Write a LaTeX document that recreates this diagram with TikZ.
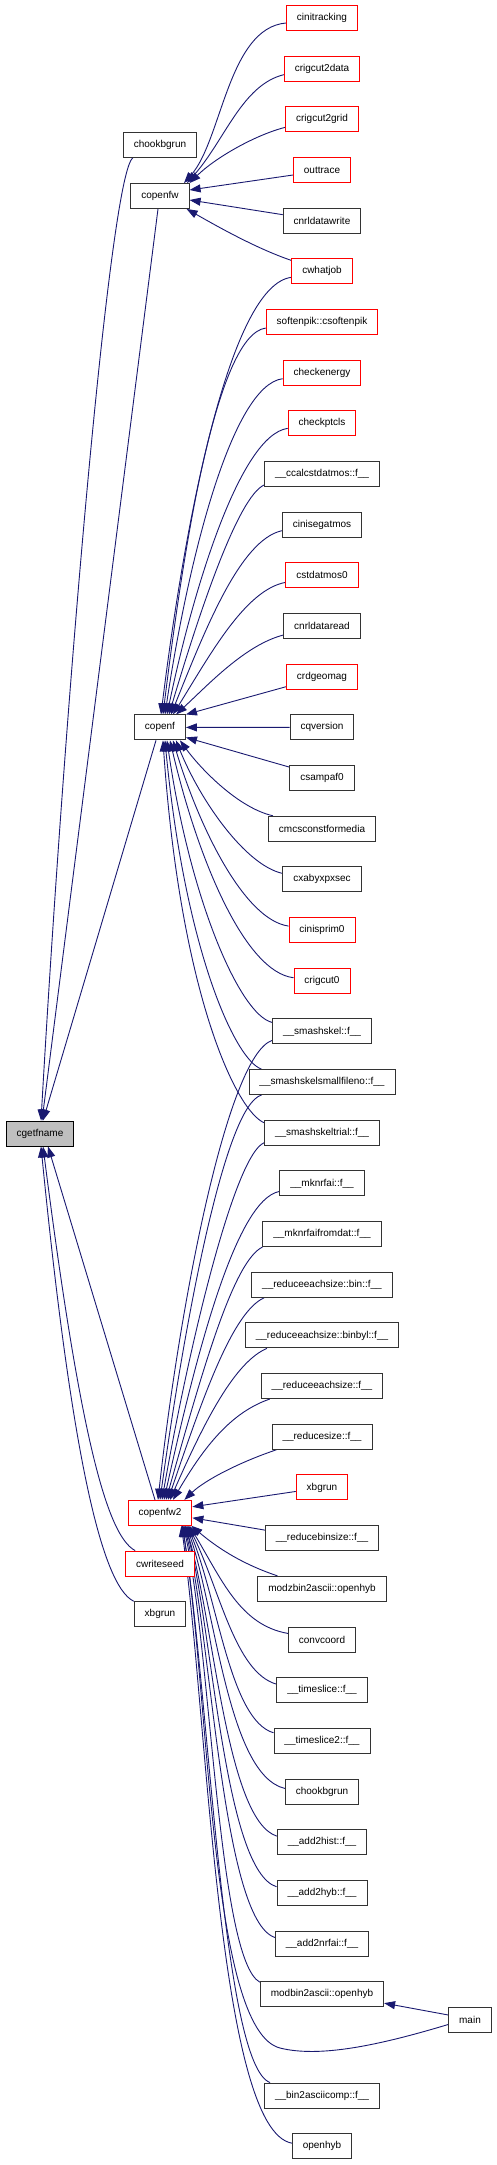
\documentclass[tikz,border=0pt]{standalone}
\usepackage{fontspec}
\setmainfont{Liberation Sans}
\usetikzlibrary{arrows.meta}
\definecolor{edgec}{HTML}{191970}
\definecolor{redb}{HTML}{FF0000}
\definecolor{grayfill}{HTML}{BFBFBF}
\pgfdeclarelayer{bg}
\pgfsetlayers{bg,main}
\tikzset{
  box/.style={draw=black!80, line width=0.9pt, fill=white, minimum height=25pt,
    inner xsep=10.5pt, inner ysep=0pt, font=\fontsize{10}{12}\selectfont},
  redbox/.style={box, draw=redb},
  rootbox/.style={box, draw=black, fill=grayfill},
  edge/.style={draw=edgec, line width=0.9pt, -{Triangle[length=11pt,width=8pt]}}
}
\begin{document}
\begin{tikzpicture}[x=1pt,y=-1pt]
\useasboundingbox (0,0) rectangle (497,2165);
% left column
\node[rootbox] (cgetfname) at (40,1133.5) {cgetfname};
\node[box] (chookbgrunL) at (160,145) {chookbgrun};
\node[box] (copenfw) at (160,196) {copenfw};
\node[box] (copenf) at (160,727.4) {copenf};
\node[redbox] (copenfwII) at (160,1512.8) {copenfw2};
\node[redbox] (cwriteseed) at (160,1563.5) {cwriteseed};
\node[box] (xbgrunL) at (160,1614.2) {xbgrun};
% right column
\node[redbox] (cinitracking) at (322,{18+50.67*0}) {cinitracking};
\node[redbox] (crigcutIIdata) at (322,{18+50.67*1}) {crigcut2data};
\node[redbox] (crigcutIIgrid) at (322,{18+50.67*2}) {crigcut2grid};
\node[redbox] (outtrace) at (322,{18+50.67*3}) {outtrace};
\node[box] (cnrldatawrite) at (322,{18+50.67*4}) {cnrldatawrite};
\node[redbox] (cwhatjob) at (322,{18+50.67*5}) {cwhatjob};
\node[redbox] (softenpik) at (322,{18+50.67*6}) {softenpik::csoftenpik};
\node[redbox] (checkenergy) at (322,{18+50.67*7}) {checkenergy};
\node[redbox] (checkptcls) at (322,{18+50.67*8}) {checkptcls};
\node[box] (ccalcstdatmos) at (322,{18+50.67*9}) {\_\_ccalcstdatmos::f\_\_};
\node[box] (cinisegatmos) at (322,{18+50.67*10}) {cinisegatmos};
\node[redbox] (cstdatmosO) at (322,{18+50.67*11}) {cstdatmos0};
\node[box] (cnrldataread) at (322,{18+50.67*12}) {cnrldataread};
\node[redbox] (crdgeomag) at (322,{18+50.67*13}) {crdgeomag};
\node[box] (cqversion) at (322,{18+50.67*14}) {cqversion};
\node[box] (csampafO) at (322,{18+50.67*15}) {csampaf0};
\node[box] (cmcsconstformedia) at (322,{18+50.67*16}) {cmcsconstformedia};
\node[box] (cxabyxpxsec) at (322,{18+50.67*17}) {cxabyxpxsec};
\node[redbox] (cinisprimO) at (322,{18+50.67*18}) {cinisprim0};
\node[redbox] (crigcutO) at (322,{18+50.67*19}) {crigcut0};
\node[box] (smashskel) at (322,{18+50.67*20}) {\_\_smashskel::f\_\_};
\node[box] (smashskelsmall) at (322,{18+50.67*21}) {\_\_smashskelsmallfileno::f\_\_};
\node[box] (smashskeltrial) at (322,{18+50.67*22}) {\_\_smashskeltrial::f\_\_};
\node[box] (mknrfai) at (322,{18+50.67*23}) {\_\_mknrfai::f\_\_};
\node[box] (mknrfaifromdat) at (322,{18+50.67*24}) {\_\_mknrfaifromdat::f\_\_};
\node[box] (redbin) at (322,{18+50.67*25}) {\_\_reduceeachsize::bin::f\_\_};
\node[box] (redbinbyl) at (322,{18+50.67*26}) {\_\_reduceeachsize::binbyl::f\_\_};
\node[box] (redeach) at (322,{18+50.67*27}) {\_\_reduceeachsize::f\_\_};
\node[box] (redsize) at (322,{18+50.67*28}) {\_\_reducesize::f\_\_};
\node[redbox] (xbgrunR) at (322,{18+50.67*29}) {xbgrun};
\node[box] (redbinsize) at (322,{18+50.67*30}) {\_\_reducebinsize::f\_\_};
\node[box] (modzopenhyb) at (322,{18+50.67*31}) {modzbin2ascii::openhyb};
\node[box] (convcoord) at (322,{18+50.67*32}) {convcoord};
\node[box] (timeslice) at (322,{18+50.67*33}) {\_\_timeslice::f\_\_};
\node[box] (timesliceII) at (322,{18+50.67*34}) {\_\_timeslice2::f\_\_};
\node[box] (chookbgrunR) at (322,{18+50.67*35}) {chookbgrun};
\node[box] (addhist) at (322,{18+50.67*36}) {\_\_add2hist::f\_\_};
\node[box] (addhyb) at (322,{18+50.67*37}) {\_\_add2hyb::f\_\_};
\node[box] (addnrfai) at (322,{18+50.67*38}) {\_\_add2nrfai::f\_\_};
\node[box] (modopenhyb) at (322,{18+50.67*39}) {modbin2ascii::openhyb};
\node[box] (main) at (470,{18+50.67*39.5}) {main};
\node[box] (bincomp) at (322,{18+50.67*41}) {\_\_bin2asciicomp::f\_\_};
\node[box] (openhyb) at (322,{18+50.67*42}) {openhyb};

\begin{pgfonlayer}{bg}
% edges into copenfw
\draw[edge] ([yshift=-5pt]cinitracking.west) .. controls (228,28) and (222,140) .. ([xshift=24pt]copenfw.north);
\draw[edge] ([yshift=-6pt]crigcutIIdata.west) .. controls (242,85) and (225,140) .. ([xshift=27pt]copenfw.north);
\draw[edge] ([yshift=-8pt]crigcutIIgrid.west) .. controls (255,135) and (215,158) .. (copenfw.north east);
\draw[edge] ([yshift=-5pt]outtrace.west) -- ([yshift=6pt]copenfw.east);
\draw[edge] ([yshift=6pt]cnrldatawrite.west) -- ([yshift=-4pt]copenfw.east);
\draw[edge] ([yshift=-2pt]cwhatjob.north west) .. controls (255,248) and (215,225) .. ([xshift=-3pt]copenfw.south east);

% edges into copenf
\draw[edge] ([yshift=-6pt]cwhatjob.west) .. controls (230,285) and (185,520) .. ([xshift=1pt]copenf.north);
\draw[edge] ([yshift=-6pt]softenpik.west) .. controls (215,335) and (182,560) .. ([xshift=3pt]copenf.north);
\draw[edge] ([yshift=-6pt]checkenergy.west) .. controls (232,385) and (188,560) .. ([xshift=5pt]copenf.north);
\draw[edge] ([yshift=-5pt]checkptcls.west) .. controls (240,435) and (193,590) .. ([xshift=7pt]copenf.north);
\draw[edge] ([yshift=2pt]ccalcstdatmos.south west) .. controls (238,497) and (200,610) .. ([xshift=9pt]copenf.north);
\draw[edge] ([yshift=-6pt]cinisegatmos.west) .. controls (240,540) and (205,630) .. ([xshift=11pt]copenf.north);
\draw[edge] ([yshift=-7pt]cstdatmosO.west) .. controls (245,590) and (210,655) .. ([xshift=13pt]copenf.north);
\draw[edge] ([yshift=-9pt]cnrldataread.west) .. controls (245,645) and (208,685) .. ([xshift=16pt]copenf.north);
\draw[edge] ([yshift=-10pt]crdgeomag.west) -- (copenf.north east);
\draw[edge] (cqversion.west) -- (copenf.east);
\draw[edge] ([yshift=-2pt]csampafO.north west) -- ([yshift=-10pt]copenf.east);
\draw[edge] ([xshift=5pt]cmcsconstformedia.north west) .. controls (238,808) and (200,768) .. ([xshift=-6pt]copenf.south east);
\draw[edge] ([yshift=6pt]cxabyxpxsec.west) .. controls (245,865) and (200,800) .. ([xshift=-10pt]copenf.south east);
\draw[edge] ([yshift=4pt]cinisprimO.west) .. controls (245,920) and (200,830) .. ([xshift=-13pt]copenf.south east);
\draw[edge] ([yshift=3pt]crigcutO.west) .. controls (245,972) and (198,860) .. ([xshift=-16pt]copenf.south east);
\draw[edge] ([yshift=9pt]smashskel.west) .. controls (240,1015) and (190,900) .. ([xshift=-19pt]copenf.south east);
\draw[edge] ([xshift=13pt]smashskelsmall.north west) .. controls (235,1060) and (185,950) .. ([xshift=-21pt]copenf.south east);
\draw[edge] ([yshift=10pt]smashskeltrial.west) .. controls (235,1110) and (180,990) .. ([xshift=-23pt]copenf.south east);

% edges into copenfw2 from above
\draw[edge] ([yshift=-9pt]smashskel.west) .. controls (228,1055) and (180,1300) .. ([xshift=-2pt]copenfwII.north);
\draw[edge] ([xshift=13pt]smashskelsmall.south west) .. controls (225,1105) and (185,1320) .. (copenfwII.north);
\draw[edge] ([yshift=-10pt]smashskeltrial.west) .. controls (235,1155) and (190,1340) .. ([xshift=2pt]copenfwII.north);
\draw[edge] ([yshift=-8pt]mknrfai.west) .. controls (235,1200) and (195,1360) .. ([xshift=4pt]copenfwII.north);
\draw[edge] (mknrfaifromdat.south west) .. controls (232,1262) and (200,1380) .. ([xshift=6pt]copenfwII.north);
\draw[edge] ([xshift=13pt]redbin.south west) .. controls (232,1312) and (202,1400) .. ([xshift=8pt]copenfwII.north);
\draw[edge] ([xshift=22pt]redbinbyl.south west) .. controls (235,1362) and (205,1420) .. ([xshift=10pt]copenfwII.north);
\draw[edge] ([xshift=9pt]redeach.south west) .. controls (232,1412) and (205,1445) .. ([xshift=13pt]copenfwII.north);
\draw[edge] ([xshift=5pt]redsize.south west) .. controls (240,1462) and (205,1480) .. ([xshift=-8pt]copenfwII.north east);
\draw[edge] ([yshift=-4pt]xbgrunR.west) -- ([yshift=6pt]copenfwII.east);
\draw[edge] ([yshift=8pt]redbinsize.west) -- ([yshift=-5pt]copenfwII.east);
% edges into copenfw2 from below
\draw[edge] ([xshift=20pt]modzopenhyb.north west) .. controls (245,1565) and (220,1550) .. ([xshift=-1pt]copenfwII.south east);
\draw[edge] ([yshift=6pt]convcoord.west) .. controls (240,1625) and (222,1580) .. ([xshift=-3pt]copenfwII.south east);
\draw[edge] ([yshift=6pt]timeslice.west) .. controls (235,1672) and (220,1590) .. ([xshift=-4pt]copenfwII.south east);
\draw[edge] ([yshift=8pt]timesliceII.west) .. controls (230,1720) and (218,1600) .. ([xshift=-5pt]copenfwII.south east);
\draw[edge] ([yshift=3pt]chookbgrunR.west) .. controls (228,1775) and (216,1610) .. ([xshift=-6pt]copenfwII.south east);
\draw[edge] ([yshift=6pt]addhist.west) .. controls (226,1820) and (214,1620) .. ([xshift=-7pt]copenfwII.south east);
\draw[edge] ([yshift=6pt]addhyb.west) .. controls (224,1870) and (213,1630) .. ([xshift=-7pt]copenfwII.south east);
\draw[edge] ([yshift=6pt]addnrfai.west) .. controls (222,1920) and (212,1640) .. ([xshift=-8pt]copenfwII.south east);
\draw[edge] ([yshift=-1pt]modopenhyb.north west) .. controls (218,1960) and (211,1650) .. ([xshift=-9pt]copenfwII.south east);
\draw[edge] ([yshift=-5pt]main.west) .. controls (380,2045) and (320,2058) .. (280,2048) .. controls (210,2030) and (210,1700) .. ([xshift=-10pt]copenfwII.south east);
\draw[edge] ([xshift=6pt]bincomp.north west) .. controls (222,2065) and (210,1700) .. ([xshift=-10pt]copenfwII.south east);
\draw[edge] ([yshift=3pt]openhyb.west) .. controls (218,2130) and (208,1720) .. ([xshift=-11pt]copenfwII.south east);

\draw[edge] ([yshift=4.5pt]main.west) -- ([yshift=-9pt]modopenhyb.east);

% edges into cgetfname
\draw[edge] ([xshift=10pt]chookbgrunL.south west) .. controls (110,172) and (65,700) .. ([xshift=1pt]cgetfname.north);
\draw[edge] ([xshift=-2pt]copenfw.south) -- ([xshift=2pt]cgetfname.north);
\draw[edge] ([xshift=-4pt]copenf.south) -- ([xshift=3pt]cgetfname.north);
\draw[edge] ([xshift=-5pt]copenfwII.north) -- ([xshift=8pt]cgetfname.south);
\draw[edge] ([xshift=10pt]cwriteseed.north west) .. controls (105,1535) and (78,1420) .. ([xshift=3pt]cgetfname.south);
\draw[edge] (xbgrunL.north west) .. controls (100,1585) and (70,1440) .. ([xshift=1pt]cgetfname.south);
\end{pgfonlayer}
\end{tikzpicture}
\end{document}
